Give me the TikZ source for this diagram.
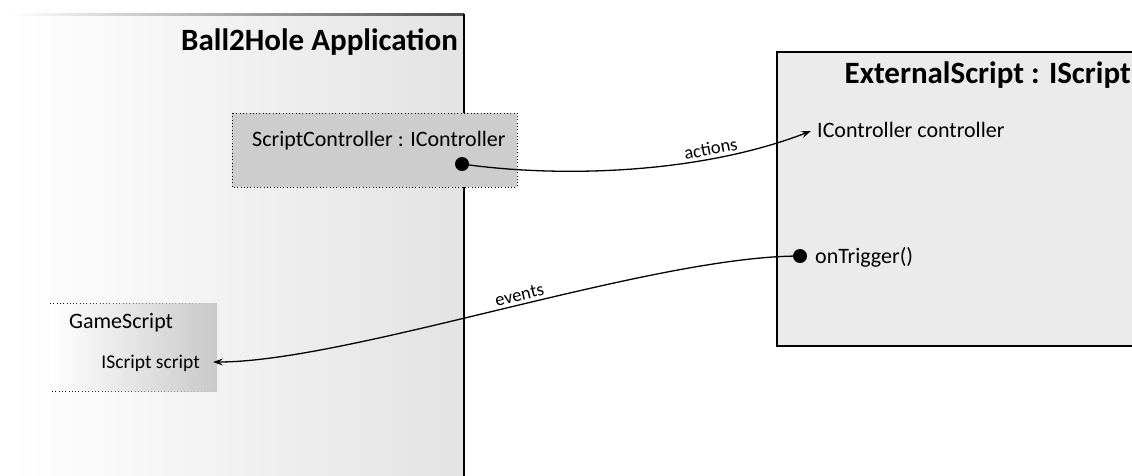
\documentclass[tikz,border=0pt]{standalone}
\usepackage{fontspec}
\setmainfont{Carlito}
\usetikzlibrary{arrows.meta,fadings}
\definecolor{appfill}{HTML}{E3E3E3}
\definecolor{ctrlfill}{HTML}{CDCDCD}
\definecolor{extfill}{HTML}{EBEBEB}
\definecolor{gsfill}{HTML}{C9C9C9}
\tikzset{
  x=1pt, y=-1pt,
  txt/.style={inner sep=0pt, font=\fontsize{22}{26}\selectfont, anchor=base west},
  smalltxt/.style={inner sep=0pt, font=\fontsize{19.5}{23}\selectfont, anchor=base east},
  title/.style={inner sep=0pt, font=\fontsize{31}{36}\selectfont\bfseries},
  port/.style={circle, fill=black, inner sep=0pt, minimum size=14pt},
  wire/.style={line width=1.3pt},
  tip/.style={-{Stealth[length=10pt,width=7pt,inset=4pt]}},
  lbl/.style={font=\fontsize{18.5}{22}\selectfont, inner sep=3pt},
  dotbox/.style={draw=black, line width=0.8pt, dash pattern=on 0.9pt off 2.4pt},
}
\begin{document}
\begin{tikzpicture}
\useasboundingbox (0,0) rectangle (1132,475);

% application container: fades in from the left
\shade[left color=white, right color=appfill, shading angle=90] (10,14) rectangle (464,476);
\shade[left color=white, right color=black!70] (10,13.5) rectangle (464,15);
\draw[line width=1.4pt] (464,14) -- (464,476);
\node[title, anchor=base east] (app) at (458,50) {Ball2Hole Application};

% script controller
\path[fill=ctrlfill, dotbox] (232,113) rectangle (517,187);
\node[txt] (ctrl) at (252,146) {ScriptController : IController};
\node[port] (ctrlport) at (462,164) {};

% game script (fades in from the left)
\shade[left color=white, right color=gsfill] (50,303) rectangle (217,391);
\path[dotbox, path fading=east] (50,303) -- (217,303) -- (217,391) -- (50,391);
\node[txt] (gs) at (69,328) {GameScript};
\node[smalltxt] (gsvar) at (200,368) {IScript script};
\coordinate (gsin) at (213,362);

% external script
\path[fill=extfill, draw=black, line width=1.3pt] (777,52) rectangle (1140,346);
\node[title, anchor=base east] (ext) at (1131,83) {ExternalScript : IScript};
\node[txt] (extctrl) at (817,137) {IController controller};
\coordinate (extin) at (811,131);
\node[port] (trig) at (800,256) {};
\node[txt] (trigtxt) at (815,263) {onTrigger()};

% connectors
\draw[wire, tip] (ctrlport.center) .. controls (560,178) and (700,174) ..
  node[lbl, pos=0.72, above, sloped] {actions} (extin);
\draw[wire, tip] (trig.center) .. controls (650,256) and (350,362) ..
  node[lbl, pos=0.47, above, sloped] {events} (gsin);
\end{tikzpicture}
\end{document}
